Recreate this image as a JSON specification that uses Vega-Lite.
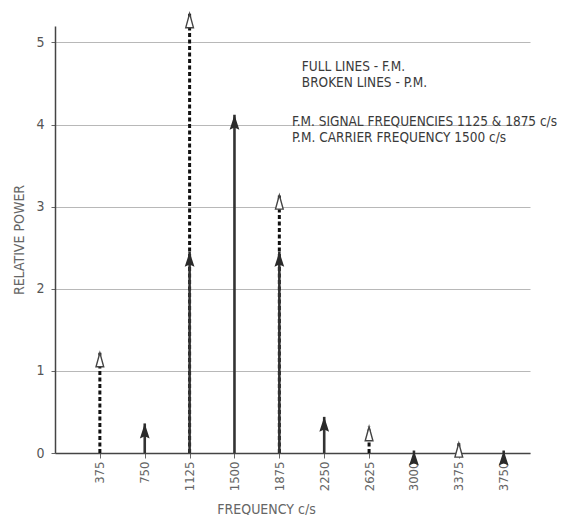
{
  "$schema": "https://vega.github.io/schema/vega-lite/v6.json",
  "width": 475,
  "height": 427,
  "autosize": {"type": "none"},
  "padding": {"left": 55, "top": 26, "right": 43, "bottom": 62},
  "background": "white",
  "config": {
    "view": {"stroke": null},
    "font": "DejaVu Sans Condensed"
  },
  "datasets": {
    "fm": [
      {"freq": 750, "power": 0.36},
      {"freq": 1125, "power": 2.45},
      {"freq": 1500, "power": 4.12},
      {"freq": 1875, "power": 2.45},
      {"freq": 2250, "power": 0.44},
      {"freq": 3000, "power": 0.03},
      {"freq": 3750, "power": 0.03}
    ],
    "pm": [
      {"freq": 375, "power": 1.22},
      {"freq": 1125, "power": 5.35},
      {"freq": 1875, "power": 3.14},
      {"freq": 2625, "power": 0.32},
      {"freq": 3375, "power": 0.12}
    ],
    "notes": [
      {"freq": 2063, "power": 4.70, "label": "FULL LINES - F.M."},
      {"freq": 2063, "power": 4.50, "label": "BROKEN LINES - P.M."},
      {"freq": 1980, "power": 4.03, "label": "F.M. SIGNAL FREQUENCIES 1125 & 1875 c/s"},
      {"freq": 1980, "power": 3.84, "label": "P.M. CARRIER FREQUENCY 1500 c/s"}
    ]
  },
  "encoding": {
    "x": {
      "field": "freq",
      "type": "quantitative",
      "scale": {"domain": [0, 3970], "nice": false, "zero": true},
      "axis": {
        "values": [375, 750, 1125, 1500, 1875, 2250, 2625, 3000, 3375, 3750],
        "format": "d",
        "title": "FREQUENCY  c/s",
        "titleFontSize": 14,
        "titleFontWeight": "normal",
        "titleColor": "#666",
        "titleX": 211,
        "titleY": 60,
        "titleBaseline": "alphabetic",
        "labelAngle": 270,
        "labelAlign": "right",
        "labelBaseline": "middle",
        "labelFontSize": 13,
        "labelColor": "#666",
        "labelPadding": 3,
        "tickSize": 5,
        "tickColor": "#666",
        "domainColor": "#444",
        "domainWidth": 1.5,
        "grid": false
      }
    },
    "y": {
      "field": "power",
      "type": "quantitative",
      "scale": {"domain": [0, 5.2], "nice": false},
      "axis": {
        "values": [0, 1, 2, 3, 4, 5],
        "title": "RELATIVE POWER",
        "titleFontSize": 14,
        "titleFontWeight": "normal",
        "titleColor": "#666",
        "titlePadding": 9,
        "labelFontSize": 14,
        "labelColor": "#555",
        "labelPadding": 7,
        "tickSize": 4,
        "tickColor": "#666",
        "domainColor": "#444",
        "domainWidth": 1.5,
        "grid": true,
        "gridColor": "#b8b8b8",
        "gridWidth": 1.2
      }
    }
  },
  "layer": [
    {
      "data": {"name": "pm"},
      "mark": {"type": "rule", "color": "#111", "strokeWidth": 3, "strokeDash": [4, 2.5]},
      "encoding": {"y": {"datum": 0}, "y2": {"field": "power"}}
    },
    {
      "data": {"name": "pm"},
      "mark": {
        "type": "point",
        "shape": "M0,0L0.55,2L-0.55,2Z",
        "size": 196,
        "filled": true,
        "fill": "white",
        "stroke": "#444",
        "strokeWidth": 1.4,
        "opacity": 1,
        "clip": false
      }
    },
    {
      "data": {"name": "fm"},
      "mark": {"type": "rule", "color": "#333", "strokeWidth": 2.6},
      "encoding": {"y": {"datum": 0}, "y2": {"field": "power"}}
    },
    {
      "data": {"name": "fm"},
      "mark": {
        "type": "point",
        "shape": "M0,0L0.65,2L0,1.7L-0.65,2Z",
        "size": 225,
        "filled": true,
        "fill": "#2a2a2a",
        "strokeWidth": 0,
        "opacity": 1,
        "clip": false
      }
    },
    {
      "data": {"name": "notes"},
      "mark": {
        "type": "text",
        "align": "left",
        "baseline": "middle",
        "fontSize": 13.5,
        "color": "#3a3a3a"
      },
      "encoding": {"text": {"field": "label"}}
    }
  ]
}
